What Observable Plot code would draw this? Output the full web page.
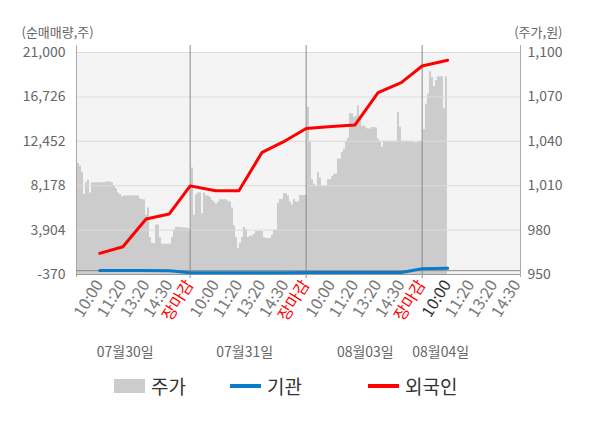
<!DOCTYPE html>
<html>
<head>
<meta charset="utf-8">
<script src="https://cdn.jsdelivr.net/npm/d3@7"></script>
<script src="https://cdn.jsdelivr.net/npm/@observablehq/plot@0.6"></script>
<style>
  body { margin: 0; background: #fff; font-family: "Noto Sans CJK KR", "Noto Sans", sans-serif; }
  #wrap { position: relative; width: 600px; height: 428px; }
  #legend { position: absolute; left: 0; top: 364px; width: 600px; height: 44px; }
  #legend .sw { position: absolute; }
  #legend .tx { position: absolute; top: 11px; height: 22px; line-height: 22px; font-size: 19px; color: #333; white-space: nowrap; }
</style>
</head>
<body>
<div id="wrap">
  <div id="chart"></div>
  <div id="legend"></div>
</div>
<script>
// ---- data ----
const days = ["07월30일", "07월31일", "08월03일", "08월04일"];
const tickLabels = ["10:00", "11:20", "13:20", "14:30", "장마감"];
const tickSlots = [1, 2, 3, 4, 4.9];
const dateLabelSlots = [2.1, 7.25, 12.45, 15.7];

// cumulative net purchase (shares), one value per tick, in order
const foreign = [1661, 2299, 4978, 5461, 8160, 7685, 7685, 11389, 12500, 13681, 13874, 14019, 17133, 18100, 19705, 20256];
const institution = [20, 20, 20, 0, -210, -190, -190, -190, -190, -180, -180, -180, -180, -170, 190, 220];

// stock price (won), sampled evenly through each session
const priceDay1 = [1025.5, 1025, 1023, 1019, 1004, 1012, 1013.6, 1005, 1012, 1012, 1012, 1012, 1012, 1012, 1012, 1012.5, 1012.5, 1012.5, 1012, 1010, 1008, 1005, 1004, 1002.5, 1003, 1003, 1003, 1003.2, 1003.2, 1003.2, 1003, 1003, 1001, 1000.5, 1000.5, 990, 995, 975, 971, 971, 983.4, 983.4, 975, 970.5, 970.5, 970.5, 970.5, 970.5, 975, 980, 981.8, 981.8, 981.8, 981.5, 981.5, 981.5, 981, 980];
const priceDay2 = [1022, 990, 1003.9, 1005, 1005, 991, 1005, 1003, 1003, 1002, 1000, 999, 997.5, 999, 1000.5, 1000.5, 1000.5, 1000.5, 999.5, 999, 995, 983, 975, 967.5, 971, 975, 982, 980, 975, 976, 976, 977, 979, 979, 979, 979, 975, 974.5, 974.3, 974.3, 976.6, 980, 980, 998.2, 1000.6, 1000.6, 1004.5, 1004.5, 1003, 999, 997, 1000.6, 999, 999, 1003.3, 1003.3, 1003.3, 1003.3];
const priceDay3 = [1063, 1040, 1014, 1011, 1010, 1018.7, 1015, 1010, 1010, 1010, 1014, 1014, 1016, 1017.7, 1017.7, 1028, 1028, 1032.5, 1034.7, 1040, 1042, 1058.6, 1058.6, 1056, 1057, 1064, 1057, 1050.4, 1050.4, 1049, 1048.3, 1048.3, 1049.4, 1049.4, 1049, 1041.5, 1039.8, 1036, 1040, 1040, 1040, 1040, 1040, 1040, 1040, 1059.6, 1049.5, 1040, 1040, 1040, 1040, 1040, 1040, 1039, 1039, 1040, 1040, 1040];
const priceDay4 = [1048, 1065, 1072, 1087, 1083, 1077, 1081, 1083.6, 1083.6, 1083.6, 1062, 1083.6];

const leftTicks = [-370, 3904, 8178, 12452, 16726, 21000];
const rightTicks = [950, 980, 1010, 1040, 1070, 1100];

// ---- build tables ----
const L0 = leftTicks[0], L1 = leftTicks[leftTicks.length - 1];
const P0 = rightTicks[0], P1 = rightTicks[rightTicks.length - 1];
const toLeft = p => L0 + (p - P0) / (P1 - P0) * (L1 - L0);
const toPrice = v => P0 + (v - L0) / (L1 - L0) * (P1 - P0);
const SLOTS_PER_DAY = 5;
const SAMPLES_PER_DAY = 58;

const priceRows = [];
[priceDay1, priceDay2, priceDay3, priceDay4].forEach((arr, d) => {
  arr.forEach((p, k) => {
    priceRows.push({x: d * SLOTS_PER_DAY + (k - 0.5) * SLOTS_PER_DAY / SAMPLES_PER_DAY, v: toLeft(p)});
  });
});
{
  const last = priceRows[priceRows.length - 1];
  priceRows.push({x: last.x + SLOTS_PER_DAY / SAMPLES_PER_DAY, v: last.v});
}

const flowRows = foreign.map((f, i) => ({
  x: Math.floor(i / 5) * SLOTS_PER_DAY + tickSlots[i % 5],
  foreign: f,
  inst: institution[i]
}));

const xMax = 19.14;
const xTicks = [];
days.forEach((dname, d) => {
  tickLabels.forEach((lab, s) => {
    const x = d * SLOTS_PER_DAY + tickSlots[s];
    if (x <= xMax) xTicks.push({x, label: lab, close: lab === "장마감", current: d === days.length - 1 && s === 0});
  });
});
const separators = [0, 1, 2].map(d => d * SLOTS_PER_DAY + tickSlots[4]);

const fmtLeft = d => Math.round(d).toLocaleString("en-US");
const fmtRight = d => Math.round(toPrice(d)).toLocaleString("en-US");
const FONT = '"Noto Sans CJK KR", "Noto Sans", sans-serif';
const xLab = {x: "x", text: "label", frameAnchor: "bottom", rotate: -58, textAnchor: "end", dx: 4, dy: 10, fontSize: 16};

const chart = Plot.plot({
  width: 600,
  height: 364,
  marginLeft: 76,
  marginRight: 80,
  marginTop: 52,
  marginBottom: 90,
  x: {domain: [0, xMax], axis: null},
  y: {domain: [L0, L1], axis: null},
  style: {fontFamily: FONT, fontSize: "14px", background: "transparent", overflow: "visible"},
  marks: [
    Plot.frame({fill: "#f4f4f4", stroke: "none"}),
    Plot.areaY(priceRows, {x: "x", y1: L0, y2: "v", fill: "#cccccc", curve: "step-after", clip: true}),
    Plot.ruleY(leftTicks, {stroke: "#dcdcdc", strokeWidth: 1}),
    Plot.ruleX(separators, {stroke: "#8a8a8a", strokeWidth: 1, insetTop: -7, insetBottom: -4}),
    Plot.ruleX([0, xMax], {stroke: "#aaaaaa", strokeWidth: 1, insetTop: -7, insetBottom: -3}),
    Plot.ruleY([0], {stroke: "#8a8a8a", strokeWidth: 1}),
    Plot.ruleY([L0], {stroke: "#999999", strokeWidth: 1}),
    Plot.line(flowRows, {x: "x", y: "inst", stroke: "#0a7bc8", strokeWidth: 3}),
    Plot.line(flowRows, {x: "x", y: "foreign", stroke: "#ff0000", strokeWidth: 3}),
    Plot.axisY(leftTicks, {anchor: "left", tickSize: 0, tickPadding: 11, tickFormat: fmtLeft, fill: "#666", fontSize: 14, label: null}),
    Plot.axisY(rightTicks.map(toLeft), {anchor: "right", tickSize: 0, tickPadding: 7, tickFormat: fmtRight, fill: "#666", fontSize: 14, label: null}),
    Plot.text(xTicks.filter(d => !d.close && !d.current), {...xLab, fill: "#777"}),
    Plot.text(xTicks.filter(d => d.close), {...xLab, fill: "#ff0000"}),
    Plot.text(xTicks.filter(d => d.current), {...xLab, fill: "#333"}),
    Plot.text(days, {x: (d, i) => dateLabelSlots[i], text: d => d, frameAnchor: "bottom", dy: 82, fill: "#666", fontSize: 14}),
    Plot.text(["(순매매량,주)"], {frameAnchor: "top-left", textAnchor: "start", dx: -55, dy: -25, fill: "#666", fontSize: 13}),
    Plot.text(["(주가,원)"], {frameAnchor: "top-right", textAnchor: "end", dx: 42, dy: -25, fill: "#666", fontSize: 13})
  ]
});
document.getElementById("chart").appendChild(chart);

// ---- legend ----
const legendItems = [
  {name: "주가", kind: "rect", color: "#cccccc", left: 114},
  {name: "기관", kind: "line", color: "#0a7bc8", left: 230},
  {name: "외국인", kind: "line", color: "#ff0000", left: 368}
];
const lg = document.getElementById("legend");
legendItems.forEach(it => {
  const sw = document.createElement("div");
  sw.className = "sw";
  sw.style.left = it.left + "px";
  sw.style.width = "31px";
  sw.style.background = it.color;
  if (it.kind === "rect") { sw.style.top = "15px"; sw.style.height = "14px"; }
  else { sw.style.top = "20px"; sw.style.height = "4px"; }
  lg.appendChild(sw);
  const tx = document.createElement("div");
  tx.className = "tx";
  tx.style.left = (it.left + 37) + "px";
  tx.textContent = it.name;
  lg.appendChild(tx);
});
</script>
</body>
</html>
